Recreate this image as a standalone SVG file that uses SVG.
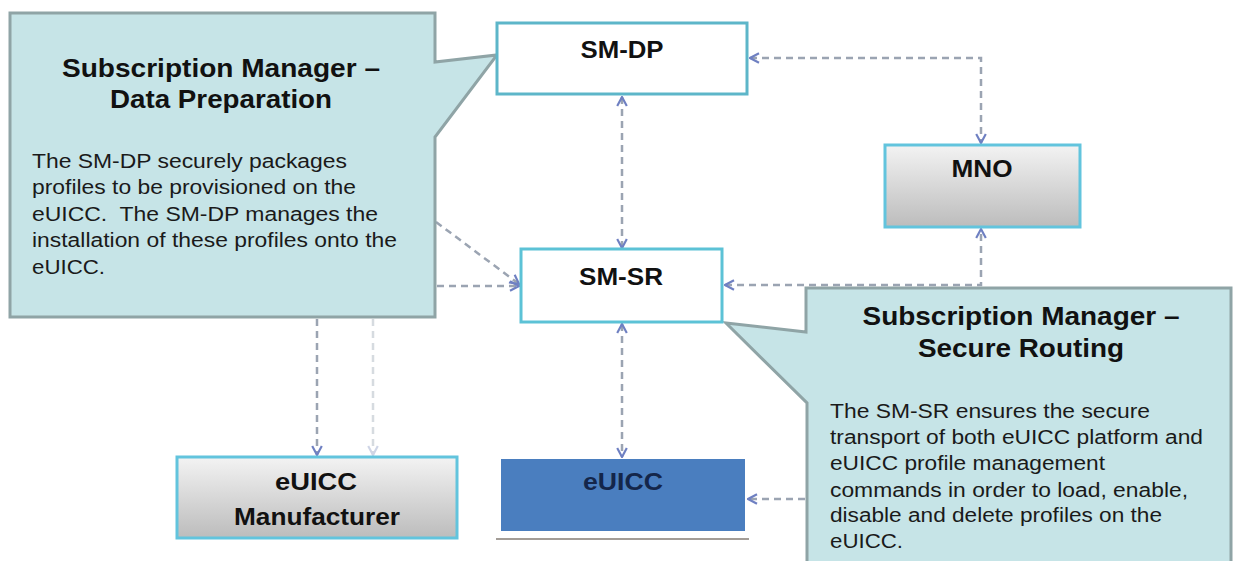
<svg xmlns="http://www.w3.org/2000/svg" width="1237" height="561" viewBox="0 0 1237 561">
<style>
.callout{fill:#c6e4e7;stroke:#8fa4a6;stroke-width:3;stroke-linejoin:miter}
.title{font-family:"Liberation Sans",Arial,sans-serif;font-weight:bold;font-size:25px;fill:#111;text-anchor:middle}
.body{font-family:"Liberation Sans",Arial,sans-serif;font-size:20px;fill:#1a1a1a;white-space:pre}
.lbl{font-family:"Liberation Sans",Arial,sans-serif;font-weight:bold;font-size:23px;fill:#111;text-anchor:middle}
.conn{fill:none;stroke:#9ba4b2;stroke-width:2.5;stroke-dasharray:7 5}
.faint{fill:none;stroke:#d6dbe0;stroke-width:2.5;stroke-dasharray:7 5}
.wbox{fill:#fff;stroke:#5db6c9;stroke-width:3}
.gbox{stroke:#62c4dd;stroke-width:3}
</style>
<defs>
<marker id="ah" viewBox="0 0 10 10" refX="9" refY="5" markerWidth="12" markerHeight="12" markerUnits="userSpaceOnUse" orient="auto-start-reverse">
<path d="M1.5,1 L9,5 L1.5,9" fill="none" stroke="#6f80c2" stroke-width="1.8"/>
</marker>
<marker id="ahf" viewBox="0 0 10 10" refX="9" refY="5" markerWidth="12" markerHeight="12" markerUnits="userSpaceOnUse" orient="auto-start-reverse">
<path d="M1.5,1 L9,5 L1.5,9" fill="none" stroke="#cfd5e6" stroke-width="1.8"/>
</marker>
<linearGradient id="gray" x1="0" y1="0" x2="0" y2="1">
<stop offset="0" stop-color="#f3f3f3"/>
<stop offset="1" stop-color="#bcbcbc"/>
</linearGradient>
</defs>

<g id="connectors">
<path class="conn" d="M622,97 L622,248" marker-start="url(#ah)" marker-end="url(#ah)"/>
<path class="conn" d="M750,58 L981,58 L981,143" marker-start="url(#ah)" marker-end="url(#ah)"/>
<path class="conn" d="M725,285 L981,285 L981,229" marker-start="url(#ah)" marker-end="url(#ah)"/>
<path class="conn" d="M436,222 L519,284" marker-end="url(#ah)"/>
<path class="conn" d="M437,286 L519,286" marker-end="url(#ah)"/>
<path class="conn" d="M317,319 L317,455" marker-end="url(#ah)"/>
<path class="faint" d="M373,319 L373,455" marker-end="url(#ahf)"/>
<path class="conn" d="M622,324 L622,457" marker-start="url(#ah)" marker-end="url(#ah)"/>
<path class="conn" d="M805,499 L748,499" marker-end="url(#ah)"/>
</g>

<g id="callout-smdp">
<path class="callout" d="M10,13 L435,13 L435,62 L497,55 L435,137 L435,317 L10,317 Z"/>
<text class="title" x="221" y="77" textLength="318" lengthAdjust="spacingAndGlyphs">Subscription Manager –</text>
<text class="title" x="221" y="108" textLength="222" lengthAdjust="spacingAndGlyphs">Data Preparation</text>
<text class="body" x="32" y="168" textLength="315" lengthAdjust="spacingAndGlyphs">The SM-DP securely packages</text>
<text class="body" x="32" y="194" textLength="324" lengthAdjust="spacingAndGlyphs">profiles to be provisioned on the</text>
<text class="body" x="32" y="221" textLength="346" lengthAdjust="spacingAndGlyphs">eUICC.  The SM-DP manages the</text>
<text class="body" x="32" y="247" textLength="365" lengthAdjust="spacingAndGlyphs">installation of these profiles onto the</text>
<text class="body" x="32" y="274" textLength="73" lengthAdjust="spacingAndGlyphs">eUICC.</text>
</g>

<g id="callout-smsr">
<path class="callout" d="M806,288 L1231,288 L1231,575 L807,575 L807,403 L726,323 L806,332 Z"/>
<text class="title" x="1021" y="325" textLength="317" lengthAdjust="spacingAndGlyphs">Subscription Manager –</text>
<text class="title" x="1021" y="357" textLength="206" lengthAdjust="spacingAndGlyphs">Secure Routing</text>
<text class="body" x="830" y="418" textLength="320" lengthAdjust="spacingAndGlyphs">The SM-SR ensures the secure</text>
<text class="body" x="830" y="444" textLength="373" lengthAdjust="spacingAndGlyphs">transport of both eUICC platform and</text>
<text class="body" x="830" y="470" textLength="275" lengthAdjust="spacingAndGlyphs">eUICC profile management</text>
<text class="body" x="830" y="497" textLength="358" lengthAdjust="spacingAndGlyphs">commands in order to load, enable,</text>
<text class="body" x="830" y="522" textLength="332" lengthAdjust="spacingAndGlyphs">disable and delete profiles on the</text>
<text class="body" x="830" y="548" textLength="73" lengthAdjust="spacingAndGlyphs">eUICC.</text>
</g>

<g id="node-smdp">
<rect class="wbox" x="497" y="23" width="250" height="71"/>
<text class="lbl" x="622" y="58" textLength="83" lengthAdjust="spacingAndGlyphs">SM-DP</text>
</g>

<g id="node-smsr">
<rect class="wbox" x="521" y="249" width="201" height="73" style="stroke:#5cc2d6"/>
<text class="lbl" x="621" y="285" textLength="84" lengthAdjust="spacingAndGlyphs">SM-SR</text>
</g>

<g id="node-mno">
<rect class="gbox" x="885" y="145" width="195" height="82" fill="url(#gray)"/>
<text class="lbl" x="982" y="177" textLength="61" lengthAdjust="spacingAndGlyphs">MNO</text>
</g>

<g id="node-manufacturer">
<rect class="gbox" x="177" y="457" width="280" height="81" fill="url(#gray)"/>
<text class="lbl" x="316" y="490" textLength="82" lengthAdjust="spacingAndGlyphs">eUICC</text>
<text class="lbl" x="317" y="525" textLength="166" lengthAdjust="spacingAndGlyphs">Manufacturer</text>
</g>

<g id="node-euicc">
<rect x="501" y="459" width="244" height="72" fill="#4a7ebf"/>
<line x1="496" y1="539" x2="749" y2="539" stroke="#a39d97" stroke-width="2"/>
<text class="lbl" x="623" y="490" textLength="80" lengthAdjust="spacingAndGlyphs" style="fill:#14264a">eUICC</text>
</g>
</svg>
